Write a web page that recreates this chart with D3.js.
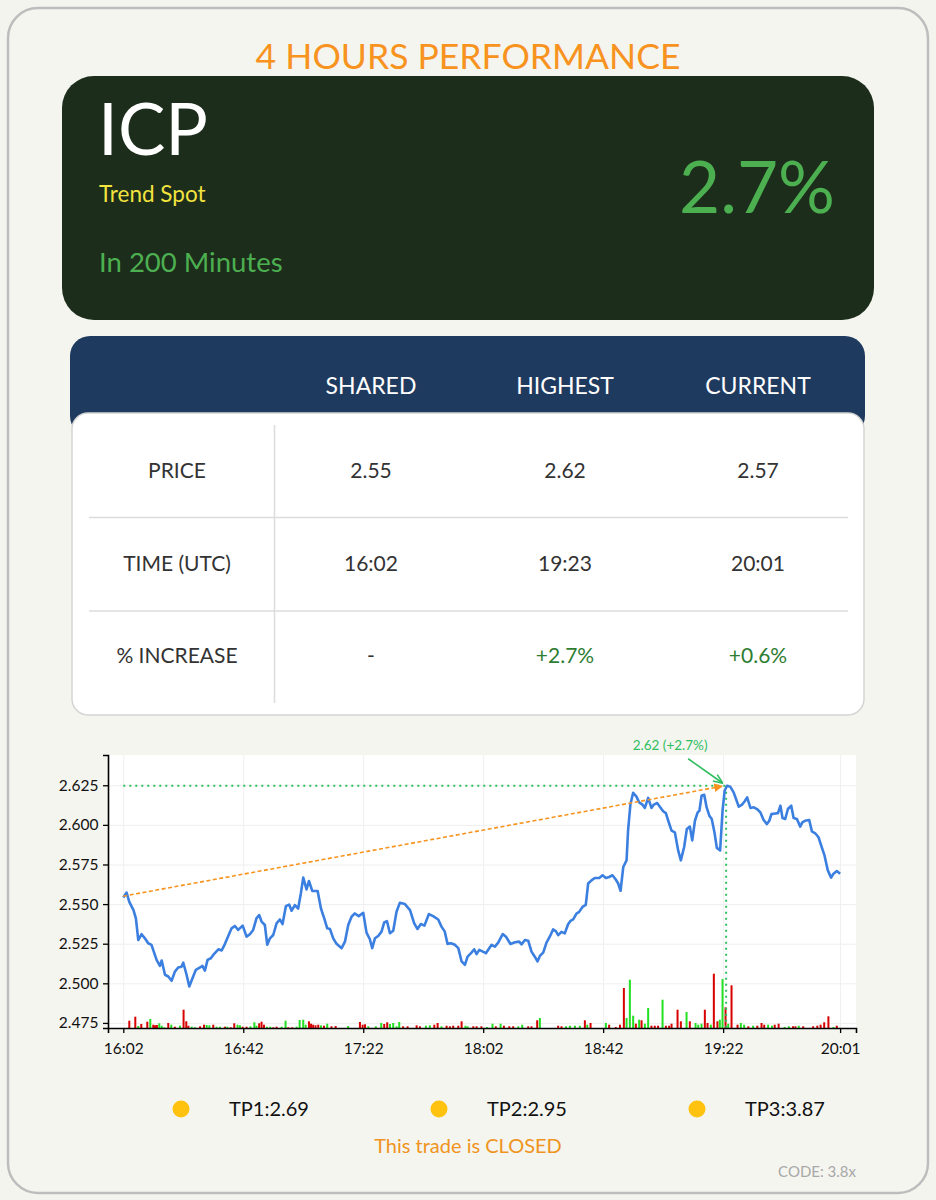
<!DOCTYPE html>
<html>
<head>
<meta charset="utf-8">
<script src="https://cdn.jsdelivr.net/npm/d3@7"></script>
<style>
  body { margin: 0; background: #f4f4ef; }
  svg { display: block; font-family: Lato, 'Noto Sans', sans-serif; }
</style>
</head>
<body>
<svg id="chart" width="936" height="1200"></svg>
<script>
// ---------------- DATA ----------------
const title = "4 HOURS PERFORMANCE";
const symbol = "ICP";
const subtitle = "Trend Spot";
const durationText = "In 200 Minutes";
const headlineGain = "2.7%";

const tableColumns = ["SHARED", "HIGHEST", "CURRENT"];
const tableRowLabels = ["PRICE", "TIME (UTC)", "% INCREASE"];
const priceRow = ["2.55", "2.62", "2.57"];
const timeRow = ["16:02", "19:23", "20:01"];
const increaseRow = ["-", "+2.7%", "+0.6%"];

const targets = ["TP1:2.69", "TP2:2.95", "TP3:3.87"];
const statusText = "This trade is CLOSED";
const codeText = "CODE: 3.8x";

const startTime = "16:02";
const xTickLabels = ["16:02", "16:42", "17:22", "18:02", "18:42", "19:22", "20:01"];
const yTicks = [2.475, 2.500, 2.525, 2.550, 2.575, 2.600, 2.625];

// price line: minutes after 16:02, price
const priceMinutes = [0,1.1,2,3.4,4.2,5,6.1,7.2,8.3,9.4,11.1,12.2,12.8,13.9,15,16.1,17.2,18.3,19.4,20,21.1,22,23.1,24.2,25.6,26.4,27.2,28.1,29.2,30.3,31.7,32.8,33.9,35,36.1,37.2,38.3,39.8,41.1,42.2,43.3,44.4,45.3,46.1,47.2,48,48.9,50,51.1,52.2,53.1,54.2,55.3,56.1,57.2,58.3,
59.2,60,61.1,61.9,63,64.8,65.9,67,68,68.9,70,71.1,72.8,73.9,75,76.1,77.2,78.5,80,81.1,82.2,83,83.9,85,86.1,87,87.9,88.9,90,91.1,92.2,93.9,95.6,97,98.1,99.2,100.4,101.9,103.3,105,106.1,107.2,108.1,109.2,110.6,111.7,112.8,113.9,114.8,116.1,117,117.8,118.7,
120.9,122.8,123.9,125,126.5,127.6,129.1,130.6,132,132.8,133.9,135,136.1,137.2,138.1,138.9,140,141.1,142.2,143.3,144.2,145,146.1,147.2,148.3,149.1,150,151.1,152,153.1,154.2,155,156.1,157.2,158.7,159.8,160.9,162,163.1,164.2,165,165.8,166.7,167.8,168.3,169.1,170,171.1,172,173.1,173.9,175,176.1,176.9,178,178.9,180,180.9,
181.7,182.8,183.9,185,185.9,187,187.9,188.9,189.7,190.6,191.5,192.1,192.8,193.7,194.5,195.4,196.2,197.1,197.9,199,199.8,200.5,201.3,202.4,203.5,204.3,205.2,206.3,207.2,208,209.1,210.2,211.3,212.4,213.5,214.6,215.4,216.1,217.4,218.3,219.1,219.8,220.7,221.6,222.7,223.5,224.6,225.7,226.4,227.3,228.7,229.6,230.7,231.8,232.7,233.8,234.9,236,236.8,237.9,239];
const prices = [2.5542,2.5573,2.5514,2.5462,2.541,2.5273,2.531,2.5284,2.5253,2.5243,2.5148,2.511,2.5144,2.5054,2.5043,2.5016,2.5074,2.51,2.5104,2.513,2.5054,2.498,2.5033,2.5085,2.51,2.511,2.508,2.5148,2.5158,2.5186,2.5215,2.5207,2.5249,2.5299,2.5347,2.5362,2.5337,2.5364,2.5295,2.531,2.5337,2.541,2.5431,2.539,2.5368,2.5243,2.5284,2.5305,2.5378,2.5403,2.5374,2.5487,2.5497,2.5458,2.5493,2.5472,
2.5567,2.5667,2.5592,2.5646,2.5583,2.5583,2.5472,2.541,2.5347,2.5343,2.5284,2.5249,2.5222,2.5263,2.5368,2.542,2.5441,2.5424,2.5445,2.532,2.5278,2.5222,2.5284,2.5299,2.5326,2.5384,2.5393,2.5316,2.5332,2.5452,2.5508,2.55,2.5462,2.5378,2.5343,2.5374,2.5364,2.5437,2.5424,2.5403,2.5358,2.5326,2.5249,2.5253,2.5243,2.5222,2.5138,2.5117,2.5169,2.5194,2.5215,2.5184,2.5211,
2.519,2.5243,2.5232,2.5257,2.5311,2.5294,2.5248,2.5259,2.5263,2.5246,2.5273,2.5269,2.52,2.5168,2.5138,2.5173,2.5194,2.5257,2.5294,2.534,2.533,2.5304,2.5325,2.5315,2.5373,2.5394,2.5403,2.544,2.5451,2.5482,2.5495,2.563,2.565,2.5665,2.5665,2.5682,2.5665,2.5671,2.5682,2.5655,2.563,2.5584,2.5734,2.5776,2.5964,2.6132,2.6203,2.6178,2.6142,2.6128,2.6107,2.617,2.6107,2.6128,2.6138,2.6115,2.6086,2.6074,
2.6026,2.5964,2.5953,2.5839,2.5776,2.586,2.5974,2.5989,2.5902,2.6026,2.6079,2.6089,2.6184,2.619,2.611,2.6058,2.6037,2.5953,2.5855,2.5839,2.6089,2.6215,2.6247,2.624,2.6205,2.6163,2.6115,2.6128,2.6149,2.6174,2.6107,2.6111,2.61,2.6079,2.6031,2.6005,2.6026,2.6068,2.6072,2.6074,2.6121,2.6043,2.6037,2.61,2.6121,2.6043,2.6037,2.5989,2.6016,2.6026,2.6031,2.5959,2.5947,2.5922,2.5869,2.5807,2.5713,2.5667,2.5692,2.5709,2.5692];

// volume bars: minutes after 16:02, volume, direction (1 up / 0 down)
const volMinutes = [2,4,5,6,8,9,10,10.6,11.2,12,12.8,13.7,15,16,17.2,18.9,20.1,21,21.7,22.8,23.9,25.6,26.9,27.8,28.7,30,31.1,32.2,33.9,34.7,35.8,37,38.1,38.9,39.8,41.1,42.4,43.7,44.4,45.3,46.1,46.9,47.9,49,50,51.1,52.8,54.1,55,56.3,57.8,58.8,
60,60.8,61.9,62.6,63.3,64.1,65,65.9,66.9,68,69.4,70.8,75,78.9,79.8,80.6,81.7,84.2,86,87,88,88.9,90,91.1,92,93.3,94.8,97.8,98.9,100.9,102.2,103.7,104.8,106.1,107.8,108.9,110,111.7,112.8,114.1,114.8,116.7,117.8,119.4,
121.3,123.1,124.2,125.8,126.9,128.7,130,131.7,133,135,136.1,138,138.9,145,146.1,147.6,148.9,150.6,152.2,153.9,154.7,155.8,160.9,162,164.2,165.6,166.9,167.8,168.9,170,170.9,172,172.8,173.9,175,176.1,177.2,178.3,179.8,180.9,182,
182.8,184.8,185.9,187.8,188.9,190.8,191.7,192.8,193.9,194.8,195.9,196.9,198.1,198.9,199.8,200.8,201.7,202.8,204.8,205.9,207,208.4,210,211.4,212.8,213.7,215,216.3,217.2,218.5,220.5,221.9,223.3,224.1,225.2,226.7,230,231.4,232.5,233.7,235.1,236.8,237.9];
const volumes = [7.3,11.3,2,4,6.3,9,3.3,2.7,3,4.7,2.3,0.7,5,3.3,1.3,2.3,18.3,6.7,2.3,1.3,0.7,1.7,3.3,3,2.7,3.3,1.3,1.3,1.3,1.3,0.7,4.7,3.3,2.7,1.3,1.3,1.7,5.7,2.3,4.7,6.3,3.3,1.3,1.3,0.7,1.3,1.3,7.3,0.7,0.7,1.3,8,
8.3,3.3,6.7,4.3,3.3,2.7,3.3,2.7,2.3,4.3,1.7,2,2,6,3.3,3.7,1.7,1.7,5,4,5.7,4,5,1.7,6,1.7,1.7,2.7,1.7,2.3,2.7,3.3,5,1.7,2.3,1.7,2.3,2.3,6.7,2.3,1.7,1.7,1.7,1.7,
1,4.3,1.7,4.3,2.3,1.7,1.7,1.7,3.3,1.7,1.7,7.7,10,2.3,1.7,1.7,2.3,2.3,2.3,7.7,3.3,5,5,3.3,1,3.3,40,10,48.3,12.3,4.3,8.3,7.7,4.3,20,2.3,2.3,2.3,28.3,2.3,2.3,
4.3,18.3,6.7,16,6.7,5,3.3,4.3,18.3,5,3.3,54.3,6.7,8.3,49,20.7,4.3,42.7,3.3,5,3.3,1.7,2.3,2.3,5,3.3,3.3,2.3,3.3,4.3,1,1.7,1.7,1.7,2.3,1.7,1.7,2.3,3.3,5.7,11.7,1,2.3];
const volUp = [0,0,1,0,0,1,0,0,0,1,1,1,0,1,0,1,0,0,0,1,1,0,0,1,1,0,1,1,0,1,0,0,1,1,0,0,1,1,1,0,0,0,1,1,0,0,1,1,0,0,1,1,
1,1,0,0,0,0,0,1,0,1,0,0,1,0,0,0,1,1,1,0,0,1,1,1,1,0,0,0,0,1,1,0,0,1,0,0,0,0,0,1,1,0,0,0,
1,1,0,1,0,0,0,1,1,0,0,0,1,0,0,1,1,1,1,0,1,0,1,0,0,0,0,1,1,1,0,1,0,1,1,0,0,0,1,0,0,
0,0,0,1,0,1,1,1,0,0,1,0,0,1,1,0,1,0,0,1,1,0,1,0,0,0,1,1,0,0,1,1,0,0,1,0,0,0,0,0,0,1,0];

const sharedPrice = 2.555;
const highMinute = 201;      // 19:23
const highPrice = 2.6247;
const highLabel = "2.62 (+2.7%)";

// ---------------- DRAW ----------------
const svg = d3.select("#chart");
const FONT = "Lato, 'Noto Sans', sans-serif";

// outer card
svg.append("rect").attr("x", 8).attr("y", 8).attr("width", 920).attr("height", 1185)
  .attr("rx", 30).attr("fill", "#f5f5f0").attr("stroke", "#bdbdbd").attr("stroke-width", 2.5);

svg.append("text").attr("x", 468).attr("y", 69).attr("text-anchor", "middle")
  .attr("font-size", 35.5).attr("fill", "#f7931e").text(title);

// header box
svg.append("rect").attr("x", 62).attr("y", 76).attr("width", 812).attr("height", 244)
  .attr("rx", 32).attr("fill", "#1c2d1b");
svg.append("text").attr("x", 98).attr("y", 155).attr("font-size", 71).attr("fill", "#ffffff").text(symbol);
svg.append("text").attr("x", 99).attr("y", 202).attr("font-size", 22.5).attr("fill", "#f2e33f").text(subtitle);
svg.append("text").attr("x", 99).attr("y", 272).attr("font-size", 27.5).attr("fill", "#4caf50").text(durationText);
svg.append("text").attr("x", 835).attr("y", 213).attr("text-anchor", "end")
  .attr("font-size", 71).attr("fill", "#4caf50").text(headlineGain);

// table
svg.append("rect").attr("x", 70).attr("y", 336).attr("width", 795).attr("height", 100)
  .attr("rx", 20).attr("fill", "#1f3a5f");
const colX = [177, 371, 565, 758];
svg.selectAll("text.colhead").data(tableColumns).join("text").attr("class", "colhead")
  .attr("x", (d, i) => colX[i + 1]).attr("y", 394).attr("text-anchor", "middle")
  .attr("font-size", 23).attr("fill", "#ffffff").text(d => d);

svg.append("rect").attr("x", 72).attr("y", 413).attr("width", 792).attr("height", 302)
  .attr("rx", 16).attr("fill", "#ffffff").attr("stroke", "#d3d3d3").attr("stroke-width", 1.5);
svg.append("line").attr("x1", 274.5).attr("x2", 274.5).attr("y1", 425).attr("y2", 703)
  .attr("stroke", "#dcdcdc").attr("stroke-width", 1.5);
[517.5, 611].forEach(y => svg.append("line").attr("x1", 89).attr("x2", 848).attr("y1", y).attr("y2", y)
  .attr("stroke", "#dcdcdc").attr("stroke-width", 1.5));
const rowY = [478, 571, 663];
const rows = [priceRow, timeRow, increaseRow];
tableRowLabels.forEach((lab, r) => {
  svg.append("text").attr("x", colX[0]).attr("y", rowY[r]).attr("text-anchor", "middle")
    .attr("font-size", 21).attr("fill", "#333").text(lab);
  rows[r].forEach((v, c) => {
    svg.append("text").attr("x", colX[c + 1]).attr("y", rowY[r]).attr("text-anchor", "middle")
      .attr("font-size", 21).attr("fill", v.startsWith("+") ? "#2e7d32" : "#333").text(v);
  });
});

// chart
const plot = { left: 108, right: 856, top: 755, bottom: 1028 };
const toMin = s => { const [h, m] = s.split(":").map(Number); const [h0, m0] = startTime.split(":").map(Number); return h * 60 + m - (h0 * 60 + m0); };
const x = d3.scaleLinear().domain([-5.1, 244.3]).range([plot.left, plot.right]);
const y = d3.scaleLinear().domain([2.4718, 2.6441]).range([plot.bottom, plot.top]);
const yv = d3.scaleLinear().domain([0, 60]).range([plot.bottom, plot.bottom - 60]);
const xTickVals = xTickLabels.map(toMin);

svg.append("rect").attr("x", plot.left).attr("y", plot.top).attr("width", plot.right - plot.left)
  .attr("height", plot.bottom - plot.top).attr("fill", "#ffffff");

// grid
const gx = svg.append("g").attr("transform", `translate(0,${plot.bottom})`)
  .call(d3.axisBottom(x).tickValues(xTickVals).tickSize(-(plot.bottom - plot.top)).tickFormat(""));
const gy = svg.append("g").attr("transform", `translate(${plot.left},0)`)
  .call(d3.axisLeft(y).tickValues(yTicks).tickSize(-(plot.right - plot.left)).tickFormat(""));
[gx, gy].forEach(g => { g.select(".domain").remove(); g.selectAll("line").attr("stroke", "#efefef").attr("stroke-width", 1); });

// volume bars
const vol = volMinutes.map((m, i) => ({ m, v: volumes[i], up: volUp[i] }));
svg.append("g").selectAll("rect").data(vol).join("rect")
  .attr("x", d => x(d.m) - 1).attr("width", 2)
  .attr("y", d => yv(d.v)).attr("height", d => plot.bottom - yv(d.v))
  .attr("fill", d => d.up ? "#22e022" : "#d80000");

// dotted green guides
const green = "#2fbf5f";
svg.append("line").attr("x1", x(0)).attr("x2", x(highMinute)).attr("y1", y(highPrice)).attr("y2", y(highPrice))
  .attr("stroke", green).attr("stroke-width", 2).attr("stroke-dasharray", "2,4");
svg.append("line").attr("x1", x(highMinute)).attr("x2", x(highMinute)).attr("y1", y(highPrice)).attr("y2", plot.bottom)
  .attr("stroke", green).attr("stroke-width", 2).attr("stroke-dasharray", "2,4");

// price line
const pts = priceMinutes.map((m, i) => [m, prices[i]]);
svg.append("path").datum(pts).attr("fill", "none").attr("stroke", "#3b7fe0").attr("stroke-width", 2.6)
  .attr("stroke-linejoin", "round")
  .attr("d", d3.line().x(d => x(d[0])).y(d => y(d[1])));

// arrows
const defs = svg.append("defs");
defs.append("marker").attr("id", "arrOrange").attr("viewBox", "0 0 10 10").attr("refX", 9).attr("refY", 5)
  .attr("markerWidth", 5.5).attr("markerHeight", 5.5).attr("orient", "auto")
  .append("path").attr("d", "M0,0 L10,5 L0,10 z").attr("fill", "#f7931e");
defs.append("marker").attr("id", "arrGreen").attr("viewBox", "0 0 10 10").attr("refX", 9).attr("refY", 5)
  .attr("markerWidth", 6).attr("markerHeight", 6).attr("orient", "auto")
  .append("path").attr("d", "M0,1 L10,5 L0,9").attr("fill", "none").attr("stroke", green).attr("stroke-width", 1.6);

svg.append("line").attr("x1", x(0)).attr("y1", y(sharedPrice)).attr("x2", x(highMinute) - 4).attr("y2", y(highPrice) + 0.5)
  .attr("stroke", "#f7931e").attr("stroke-width", 1.6).attr("stroke-dasharray", "4,2.5")
  .attr("marker-end", "url(#arrOrange)");

svg.append("line").attr("x1", x(highMinute) - 38).attr("y1", y(highPrice) - 27)
  .attr("x2", x(highMinute) - 4).attr("y2", y(highPrice) - 3)
  .attr("stroke", green).attr("stroke-width", 1.6).attr("marker-end", "url(#arrGreen)");
svg.append("text").attr("x", x(highMinute) - 56).attr("y", 750).attr("text-anchor", "middle")
  .attr("font-size", 13.5).attr("fill", green).text(highLabel);

// axes
const ax = svg.append("g").attr("transform", `translate(0,${plot.bottom})`)
  .call(d3.axisBottom(x).tickValues(xTickVals).tickSizeOuter(0).tickSize(5)
    .tickFormat((d, i) => xTickLabels[i]));
const ay = svg.append("g").attr("transform", `translate(${plot.left},0)`)
  .call(d3.axisLeft(y).tickValues(yTicks).tickSizeOuter(0).tickSize(5).tickFormat(d3.format(".3f")));
[ax, ay].forEach(g => {
  g.select(".domain").attr("stroke", "#000").attr("stroke-width", 1.6);
  g.selectAll(".tick line").attr("stroke", "#000").attr("stroke-width", 1.3);
  g.selectAll(".tick text").attr("font-size", 15.5).attr("font-family", FONT).attr("fill", "#111");
});
ax.selectAll(".tick text").attr("dy", "1.15em");
ay.selectAll(".tick text").attr("dx", "-0.1em");

// bottom
const tpX = [181, 439, 697];
targets.forEach((t, i) => {
  svg.append("circle").attr("cx", tpX[i]).attr("cy", 1109).attr("r", 8.5).attr("fill", "#ffc20e");
  svg.append("text").attr("x", tpX[i] + 48).attr("y", 1116).attr("font-size", 20).attr("fill", "#111").text(t);
});
svg.append("text").attr("x", 468).attr("y", 1153).attr("text-anchor", "middle")
  .attr("font-size", 20).attr("fill", "#ef9420").text(statusText);
svg.append("text").attr("x", 856).attr("y", 1177).attr("text-anchor", "end")
  .attr("font-size", 15).attr("fill", "#a8a8a8").text(codeText);
</script>
</body>
</html>
